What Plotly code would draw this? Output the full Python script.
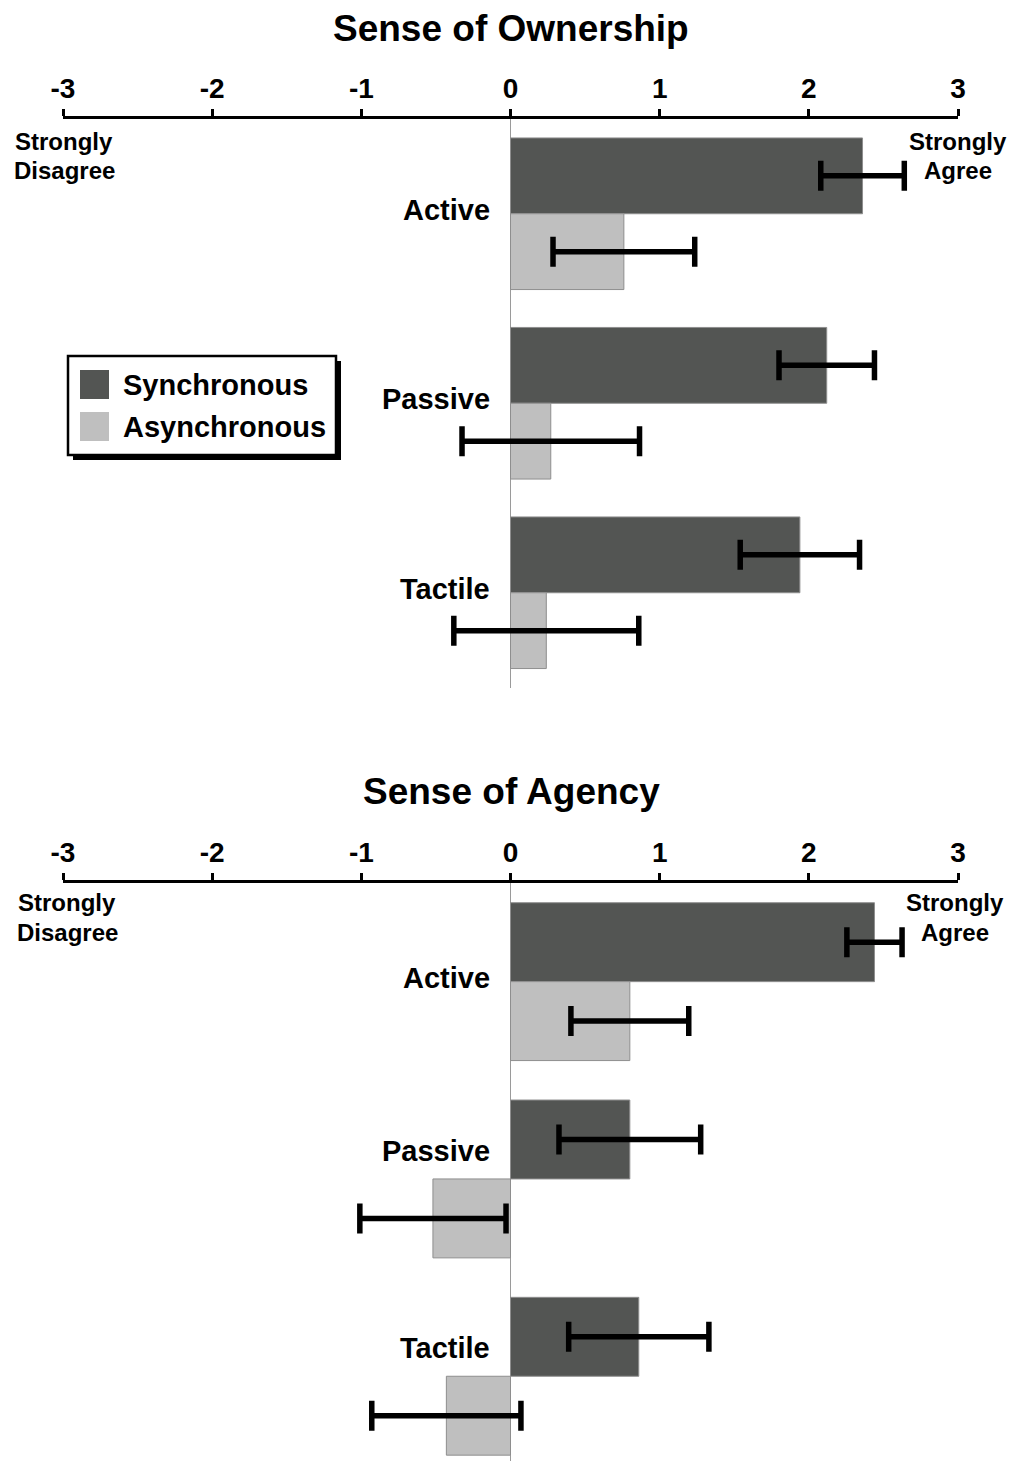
import plotly.graph_objects as go

# ---------------- data ----------------
conditions = ["Active", "Passive", "Tactile"]
tick_values = [-3, -2, -1, 0, 1, 2, 3]
tick_labels = ["-3", "-2", "-1", "0", "1", "2", "3"]
series_names = ["Synchronous", "Asynchronous"]
panel_titles = ["Sense of Ownership", "Sense of Agency"]
scale_left = ["Strongly", "Disagree"]
scale_right = ["Strongly", "Agree"]

ownership_sync = [2.36, 2.12, 1.94]
ownership_sync_err = [0.28, 0.32, 0.40]
ownership_async = [0.76, 0.27, 0.24]
ownership_async_err = [0.475, 0.595, 0.62]

agency_sync = [2.44, 0.80, 0.86]
agency_sync_err = [0.185, 0.475, 0.47]
agency_async = [0.80, -0.52, -0.43]
agency_async_err = [0.395, 0.49, 0.50]

# ---------------- style ----------------
PAGE_OFFSET = 8          # default body margin of the html page
W, H = 1018 - 2 * PAGE_OFFSET, 1469 - 2 * PAGE_OFFSET
SYNC_COLOR = "#535553"
ASYNC_COLOR = "#bfbfbf"
EDGE_COLOR = "#8e8e8e"
FONT = "Liberation Sans, Arial, sans-serif"


def px(x):
    return (x - PAGE_OFFSET) / W


def py(y):
    return 1 - (y - PAGE_OFFSET) / H


fig = go.Figure()

panels = [
    dict(sync=ownership_sync, sync_err=ownership_sync_err,
         asyn=ownership_async, asyn_err=ownership_async_err,
         xa="x", ya="y"),
    dict(sync=agency_sync, sync_err=agency_sync_err,
         asyn=agency_async, asyn_err=agency_async_err,
         xa="x2", ya="y2"),
]

for p in panels:
    for name, vals, errs, col in [
        (series_names[0], p["sync"], p["sync_err"], SYNC_COLOR),
        (series_names[1], p["asyn"], p["asyn_err"], ASYNC_COLOR),
    ]:
        fig.add_trace(go.Bar(
            x=vals, y=conditions, name=name, orientation="h",
            xaxis=p["xa"], yaxis=p["ya"], showlegend=False,
            marker=dict(color=col, line=dict(color=EDGE_COLOR, width=1)),
            error_x=dict(type="data", array=errs, visible=True,
                         color="black", thickness=5.5, width=15),
        ))

xaxis_common = dict(
    range=[-3, 3], side="top", tickvals=tick_values, ticktext=tick_labels,
    showline=True, linewidth=3, linecolor="black",
    ticks="outside", ticklen=7, tickwidth=3, tickcolor="black",
    showgrid=False, zeroline=True, zerolinecolor="#9a9a9a", zerolinewidth=1,
    tickfont=dict(family=FONT, size=28, color="black", weight="bold"),
    fixedrange=True, automargin=False,
)
yaxis_common = dict(showticklabels=False, showgrid=False, zeroline=False,
                    showline=False, ticks="", type="category",
                    categoryorder="array", categoryarray=conditions,
                    automargin=False, fixedrange=True)

# vertical pixel layout of the two panels (top of axis, height per category)
top_axis_y, top_cat_px = 119, 189.5
bot_axis_y, bot_cat_px = 883, 197.3
bot_visible = (H + PAGE_OFFSET - bot_axis_y) / bot_cat_px

fig.update_layout(
    width=W, height=H, autosize=False,
    margin=dict(l=0, r=0, t=0, b=0),
    paper_bgcolor="white", plot_bgcolor="white",
    barmode="group", bargap=0.2, bargroupgap=0,
    showlegend=False,
    xaxis=dict(domain=[px(63), px(958)], anchor="y", **xaxis_common),
    yaxis=dict(domain=[py(top_axis_y + 3 * top_cat_px), py(top_axis_y)],
               anchor="x", range=[2.5, -0.5], **yaxis_common),
    xaxis2=dict(domain=[px(63), px(958)], anchor="y2", **xaxis_common),
    yaxis2=dict(domain=[0, py(bot_axis_y)], anchor="x2",
                range=[bot_visible - 0.5, -0.5], **yaxis_common),
)

annotations = []
# panel titles
for title, yc in zip(panel_titles, [28, 792]):
    annotations.append(dict(
        text=title, x=px(511), y=py(yc), xref="paper", yref="paper",
        xanchor="center", yanchor="middle", showarrow=False,
        font=dict(family=FONT, size=37, color="black", weight="bold")))

# scale end labels (two lines each)
for (xl, xr, y1, y2) in [(64, 958, 141, 170), (67, 955, 903, 932)]:
    for lines, xc in [(scale_left, xl), (scale_right, xr)]:
        for line, yc in zip(lines, [y1, y2]):
            annotations.append(dict(
                text=line, x=px(xc), y=py(yc), xref="paper", yref="paper",
                xanchor="center", yanchor="middle", showarrow=False,
                font=dict(family=FONT, size=24, color="black", weight="bold")))

# condition labels beside the zero line
for p in panels:
    for cond, a in zip(conditions, p["asyn"]):
        annotations.append(dict(
            text=cond, x=0, y=cond, xref=p["xa"], yref=p["ya"],
            xanchor="right", yanchor="middle", showarrow=False,
            xshift=-19, yshift=28 if a < 0 else 4,
            font=dict(family=FONT, size=29, color="black", weight="bold")))

# legend (drawn manually)
shapes = [
    dict(type="rect", xref="paper", yref="paper",
         x0=px(73), x1=px(341), y0=py(460), y1=py(361),
         fillcolor="black", line=dict(width=0)),
    dict(type="rect", xref="paper", yref="paper",
         x0=px(68), x1=px(336), y0=py(455), y1=py(356),
         fillcolor="white", line=dict(color="black", width=2.5)),
]
for name, col, yc in [(series_names[0], SYNC_COLOR, 384.5),
                      (series_names[1], ASYNC_COLOR, 426.5)]:
    shapes.append(dict(type="rect", xref="paper", yref="paper",
                       x0=px(80), x1=px(109), y0=py(yc + 14.5), y1=py(yc - 14.5),
                       fillcolor=col, line=dict(width=0)))
    annotations.append(dict(
        text=name, x=px(121), y=py(yc), xref="paper", yref="paper",
        xanchor="left", yanchor="middle", showarrow=False,
        font=dict(family=FONT, size=29, color="black", weight="bold")))

fig.update_layout(annotations=annotations, shapes=shapes)

fig.write_html("out.html", config={"responsive": False})
